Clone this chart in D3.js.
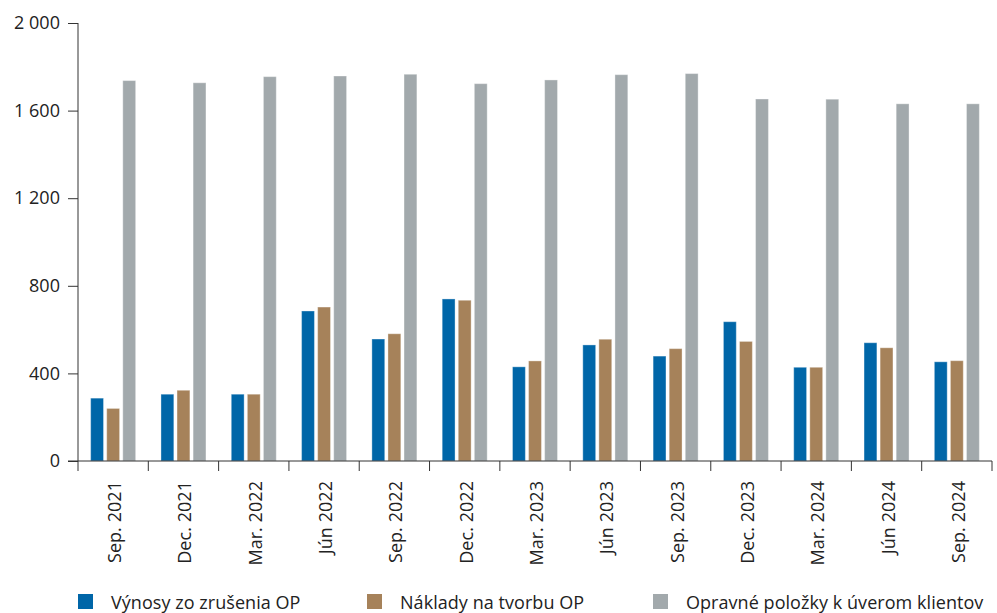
<!DOCTYPE html>
<html>
<head>
<meta charset="utf-8">
<script src="https://cdn.jsdelivr.net/npm/d3@7"></script>
<style>
    body { margin: 0; background: #fff; }
    svg { font-family: "Open Sans", "Noto Sans", sans-serif; letter-spacing: 0.05px; }
</style>
</head>
<body>
<div id="target"></div>
<script>
// data
let categories = ["Sep. 2021", "Dec. 2021", "Mar. 2022", "Jún 2022", "Sep. 2022", "Dec. 2022",
    "Mar. 2023", "Jún 2023", "Sep. 2023", "Dec. 2023", "Mar. 2024", "Jún 2024", "Sep. 2024"]
let seriesNames = ["Výnosy zo zrušenia OP", "Náklady na tvorbu OP", "Opravné položky k úverom klientov"]
let vynosy = [287, 305, 305, 685, 557, 740, 430, 530, 479, 636, 428, 540, 453]
let naklady = [240, 323, 305, 703, 581, 734, 457, 556, 513, 546, 428, 517, 458]
let opravne = [1737, 1727, 1755, 1758, 1766, 1723, 1740, 1764, 1769, 1653, 1652, 1631, 1631]
let yTicks = [0, 400, 800, 1200, 1600, 2000]
let colors = ["#0066a8", "#a6825a", "#a2a9ac"]

let width = 997, height = 613
let margin = { left: 78, right: 5, top: 23, bottom: 152 }

let svg = d3.select("#target").append("svg")
svg.attr("width", width).attr("height", height)

let rows = categories.map((c, i) => ({ cat: c, values: [vynosy[i], naklady[i], opravne[i]] }))

let x0 = d3.scaleBand().domain(categories).range([margin.left, width - margin.right]).padding(0)
let x1 = d3.scaleBand().domain(d3.range(3))
    .range([x0.bandwidth() * 0.18, x0.bandwidth() * 0.82]).paddingInner(0.2)
let y = d3.scaleLinear().domain([0, 2000]).range([height - margin.bottom, margin.top])

let locale = d3.formatLocale({ decimal: ",", thousands: " ", grouping: [3], currency: ["", " €"] })
let fmt = locale.format(",d")

// bars
let groups = svg.append("g").selectAll("g").data(rows).enter().append("g")
    .attr("transform", d => `translate(${x0(d.cat)},0)`)
groups.selectAll("rect").data(d => d.values).enter().append("rect")
    .attr("x", (d, i) => x1(i))
    .attr("width", x1.bandwidth())
    .attr("y", d => y(d))
    .attr("height", d => y(0) - y(d))
    .attr("fill", (d, i) => colors[i])
    .attr("stroke", "#fff")
    .attr("stroke-opacity", 0.35)
    .attr("stroke-width", 1)

// y axis
let yAxis = svg.append("g").attr("transform", `translate(${margin.left},0)`)
    .call(d3.axisLeft(y).tickValues(yTicks).tickFormat(fmt).tickSize(10).tickPadding(8))
yAxis.select(".domain").attr("stroke", "#333").attr("d", `M0,${y(0)}V${y(2000)}`)
yAxis.selectAll(".tick line").attr("stroke", "#333")
yAxis.selectAll(".tick text").attr("font-size", 18).attr("fill", "#222")
    .attr("font-family", "'Open Sans', sans-serif")

// x axis, ticks at band boundaries
let xAxis = svg.append("g").attr("transform", `translate(0,${y(0)})`)
xAxis.append("line").attr("x1", margin.left - 10).attr("x2", width - margin.right)
    .attr("stroke", "#333")
let bounds = categories.map(c => x0(c)).concat([x0(categories[categories.length - 1]) + x0.bandwidth()])
xAxis.selectAll(".bt").data(bounds).enter().append("line")
    .attr("x1", d => d).attr("x2", d => d).attr("y1", 0).attr("y2", 10)
    .attr("stroke", "#333")
xAxis.selectAll(".lbl").data(categories).enter().append("text")
    .attr("transform", d => `translate(${x0(d) + x0.bandwidth() / 2 + 8},20) rotate(-90)`)
    .attr("text-anchor", "end")
    .attr("font-size", 18)
    .attr("fill", "#222")
    .text(d => d)

// legend
let legendX = [78, 367, 653]
let legend = svg.append("g").selectAll("g").data(seriesNames).enter().append("g")
    .attr("transform", (d, i) => `translate(${legendX[i]},594)`)
legend.append("rect").attr("width", 15).attr("height", 15).attr("fill", (d, i) => colors[i])
legend.append("text").attr("x", 33).attr("y", 15).attr("font-size", 18).attr("fill", "#222").text(d => d)
</script>
</body>
</html>
